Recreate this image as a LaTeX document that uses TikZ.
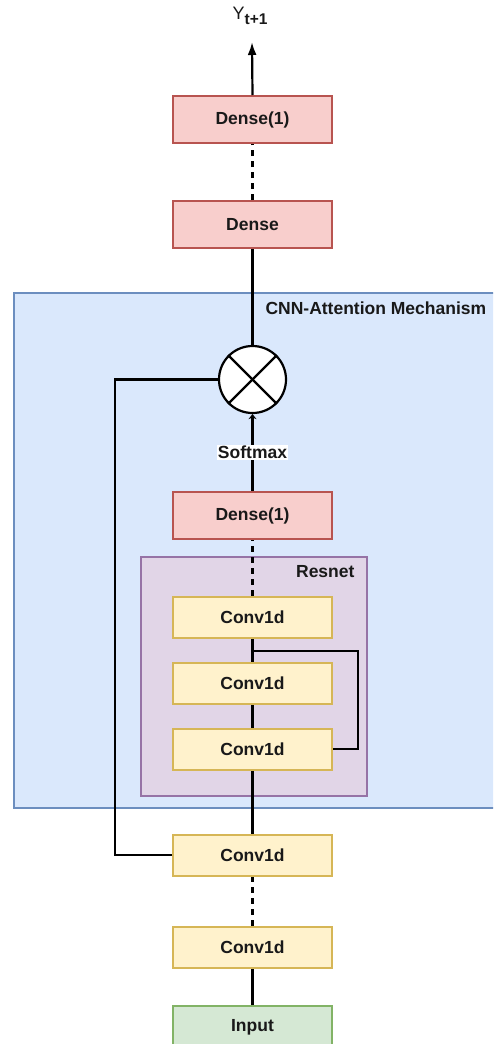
\documentclass[tikz,border=0pt]{standalone}
\usepackage{fontspec}
\setmainfont{Liberation Sans}
\usetikzlibrary{arrows.meta}
\definecolor{redfill}{HTML}{F8CECC}
\definecolor{redline}{HTML}{B85450}
\definecolor{yelfill}{HTML}{FFF2CC}
\definecolor{yelline}{HTML}{D6B656}
\definecolor{grnfill}{HTML}{D5E8D4}
\definecolor{grnline}{HTML}{82B366}
\definecolor{blufill}{HTML}{DAE8FC}
\definecolor{bluline}{HTML}{6C8EBF}
\definecolor{purfill}{HTML}{E1D5E7}
\definecolor{purline}{HTML}{9673A6}
\tikzset{
  lbl/.style={font=\fontsize{17.5}{20}\selectfont\bfseries, text=black!90},
  densebox/.style={lbl, draw=redline, fill=redfill, line width=2pt, minimum width=159pt, minimum height=47pt, inner sep=0pt},
  convbox/.style={lbl, draw=yelline, fill=yelfill, line width=2pt, minimum width=159pt, minimum height=41pt, inner sep=0pt},
  inbox/.style={lbl, draw=grnline, fill=grnfill, line width=2pt, minimum width=159pt, minimum height=41pt, inner sep=0pt},
  conn/.style={line width=2.2pt, black},
  dconn/.style={conn, dash pattern=on 6pt off 5pt},
}
\begin{document}
\begin{tikzpicture}[x=1pt,y=-1pt]
\useasboundingbox (0,0) rectangle (493,1044);
\clip (0,0) rectangle (493,1044);
% containers
\draw[draw=bluline, fill=blufill, line width=2pt] (14,293) rectangle (520,808);
\node[lbl, anchor=west] (cnnlbl) at (262,308) {CNN-Attention Mechanism};
\draw[draw=purline, fill=purfill, line width=2pt] (141,557) rectangle (366.5,796);
\node[lbl, anchor=east] (reslbl) at (358,572) {Resnet};
% nodes
\node[text=black!90, anchor=base west, inner sep=0pt] (y) at (232.5,19.5) {\fontsize{18}{20}\selectfont Y\raisebox{-5.5pt}{\fontsize{15.5}{18}\selectfont\bfseries t+1}};
\coordinate (ytip) at (252,42);
\node[densebox] (d1top) at (252.5,119.5) {Dense(1)};
\node[densebox] (dense) at (252.5,224.5) {Dense};
\node[circle, draw, fill=white, line width=2.2pt, minimum size=67pt, inner sep=0pt] (mul) at (252.5,379.5) {};
\draw[conn] (mul.north west) -- (mul.south east);
\draw[conn] (mul.north east) -- (mul.south west);
\node[densebox] (d1mid) at (252.5,515.5) {Dense(1)};
\node[convbox] (c1) at (252.5,617) {Conv1d};
\node[convbox] (c2) at (252.5,683) {Conv1d};
\node[convbox] (c3) at (252.5,749) {Conv1d};
\node[convbox] (c4) at (252.5,855) {Conv1d};
\node[convbox] (c5) at (252.5,947) {Conv1d};
\node[inbox, minimum height=42pt] (inp) at (252.5,1027) {Input};
% connectors
\draw[conn, -{Latex[length=13pt, width=9pt]}] (d1top.north) -- (ytip);
\draw[dconn] (dense.north) -- (d1top.south);
\draw[conn] (mul.north) -- (dense.south);
\draw[conn, -{Stealth[length=5pt, width=8pt]}] (d1mid.north) -- node[lbl, fill=white, inner sep=1pt] (smx) {Softmax} (mul.south);
\draw[dconn] (c1.north) -- (d1mid.south);
\draw[conn] (c2.north) -- (c1.south);
\draw[conn] (c3.north) -- (c2.south);
\coordinate (sk) at (252.5,651);
\draw[conn] (sk) -- (358,651) |- (c3.east);
\draw[conn] (c4.north) -- (c3.south);
\draw[dconn] (c5.north) -- (c4.south);
\draw[conn] (inp.north) -- (c5.south);
\draw[conn] (c4.west) -| (115,379.5) -- (mul.west);
\end{tikzpicture}
\end{document}
